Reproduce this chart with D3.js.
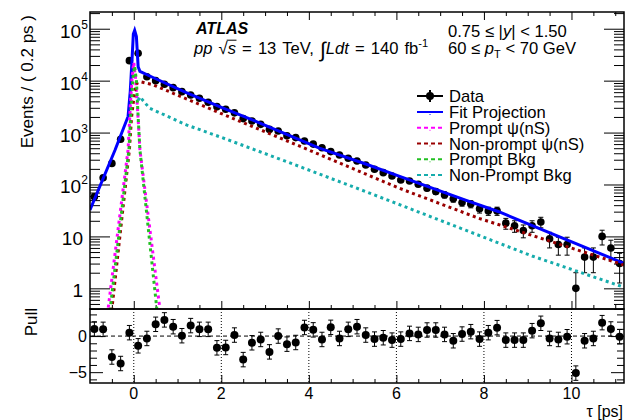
<!DOCTYPE html>
<html>
<head>
<meta charset="utf-8">
<script src="https://cdnjs.cloudflare.com/ajax/libs/d3/7.8.5/d3.min.js"></script>
<style>
    body { margin: 0; background: #fff; }
    svg { display: block; font-family: "Liberation Sans", Arial, Helvetica, sans-serif; }
</style>
</head>
<body>
<div id="container"></div>
<script>
// binned data (tau in ps, 0.2 ps bins)
var binCenters = [-0.9, -0.7, -0.5, -0.3, -0.1, 0.1, 0.3, 0.5, 0.7, 0.9, 1.1, 1.3, 1.5, 1.7, 1.9,
    2.1, 2.3, 2.5, 2.7, 2.9, 3.1, 3.3, 3.5, 3.7, 3.9, 4.1, 4.3, 4.5, 4.7, 4.9, 5.1, 5.3, 5.5, 5.7, 5.9,
    6.1, 6.3, 6.5, 6.7, 6.9, 7.1, 7.3, 7.5, 7.7, 7.9, 8.1, 8.3, 8.5, 8.7, 8.9, 9.1, 9.3, 9.5, 9.7, 9.9,
    10.1, 10.3, 10.5, 10.7, 10.9, 11.1];
var eventCounts = [58, 135, 255, 745, 24300, 33700, 11900, 10000, 8500, 7330, 6140, 5300, 4570, 3840, 3160,
    2820, 2400, 1860, 1670, 1440, 1150, 1070, 870, 800, 690, 600, 510, 430, 370, 320, 283, 237, 196, 169, 146,
    122, 117, 101, 85, 73, 63, 53, 45, 42, 34, 31, 31, 18, 16, 13, 16, 19, 9, 7, 7,
    1, 4, 4, 10, 6, 3];
var pullValues = [0.98, 0.93, -2.9, -3.8, 0.47, -1.35, -0.33, 1.63, 2.24, 1.3, 0.05, 1.45, 0.93, 0.93, -1.63,
    -1.58, 0.14, -3.26, -0.93, -0.47, -2.19, 0.0, -1.12, -0.89, 1.19, 0.86, -0.47, 1.21, -0.33, 0.93, 1.3, 0.14, -0.42, -0.23, -0.56,
    -0.42, 0.37, 0.23, 0.84, 0.84, 0.23, -0.65, 0.28, 0.61, -0.42, 0.47, 1.17, -0.56, -0.56, -0.56, 0.75, 1.77, -0.33, -0.47, -0.09,
    -5.13, -0.65, -0.33, 1.86, 0.98, -0.09];

// fit projection and components
var fitTau = [-1.0, -0.43, -0.13, -0.08, -0.04, -0.01, 0.02, 0.06, 0.1, 0.14, 0.44, 1.2, 1.96, 2.72, 3.48, 4.24, 5.3, 6.06, 6.82, 7.58, 8.34, 11.2];
var fitValues = [32.4, 457, 2042, 6310, 25100, 79400, 93300, 70800, 18600, 15100, 11500, 5890, 3160, 1740, 933, 501, 248, 145, 85.1, 50.1, 29.9, 3.02];

var promptTau = [-0.62, -0.13, -0.08, -0.04, 0.0, 0.04, 0.09, 0.14, 0.62];
var promptValues = [0.24, 468, 3160, 11200, 22400, 11200, 2510, 468, 0.28];

var nonPromptTau = [-0.52, -0.1, -0.05, 0.02, 0.08, 0.15, 0.44, 1.96, 3.9, 6.06, 7.88, 11.2];
var nonPromptValues = [0.28, 468, 2000, 6310, 9120, 9550, 8320, 2400, 501, 85.1, 22.4, 2.82];

var promptBkgTau = [-0.56, -0.11, -0.06, -0.02, 0.02, 0.06, 0.1, 0.14, 0.56];
var promptBkgValues = [0.28, 468, 3160, 11200, 19100, 10000, 2000, 468, 0.22];

var nonPromptBkgTau = [0.1, 0.14, 0.36, 1.2, 1.96, 3.4, 5.3, 7.58, 9.1, 11.2];
var nonPromptBkgValues = [4170, 4900, 2950, 1410, 832, 295, 73, 13.2, 4.2, 1.05];

// tick labels
var yTickValues = [1, 10, 100, 1000, 10000, 100000];
var yTickBases = ["1", "10", "10", "10", "10", "10"];
var yTickExponents = ["", "", "2", "3", "4", "5"];
var xTickValues = [0, 2, 4, 6, 8, 10];
var pullTickValues = [0, -5];
var pullTickLabels = ["0", "\u22125"];

var legendLabels = ["Data", "Fit Projection", "Prompt \u03c8(nS)", "Non-prompt \u03c8(nS)", "Prompt Bkg", "Non-Prompt Bkg"];
var legendColors = ["#000000", "#0000ff", "#ff00ff", "#990000", "#22c022", "#16acac"];

// layout
var plotLeft = 90, plotRight = 624;
var mainTop = 12, mainBottom = 309, pullBottom = 383;

var svg = d3.select("div#container")
    .append("svg")
    .attr("width", 625)
    .attr("height", 420);

var x = d3.scaleLinear().domain([-1, 11.2]).range([plotLeft, plotRight]);
var yMain = d3.scaleLog().domain([0.4, 2.1e5]).range([mainBottom, mainTop]);
var yPull = d3.scaleLinear().domain([-6.5, 3.75]).range([pullBottom, mainBottom]);

svg.append("clipPath").attr("id", "mainClip")
    .append("rect")
    .attr("x", plotLeft).attr("y", mainTop)
    .attr("width", plotRight - plotLeft).attr("height", mainBottom - mainTop);
svg.append("clipPath").attr("id", "pullClip")
    .append("rect")
    .attr("x", plotLeft).attr("y", mainBottom)
    .attr("width", plotRight - plotLeft).attr("height", pullBottom - mainBottom);

// inward ticks without the domain line
function drawTicks(axis, tx, ty) {
    svg.append("g")
        .attr("transform", "translate(" + tx + "," + ty + ")")
        .call(axis.tickFormat(""))
        .call(function (g) { g.select(".domain").remove(); })
        .selectAll("line")
        .attr("stroke", "#000")
        .attr("stroke-width", 1);
}

function isDecade(v) {
    var l = Math.log10(v);
    return Math.abs(l - Math.round(l)) < 1e-9;
}

var xMinor = d3.range(-0.5, 11.2, 0.5).filter(function (d) { return xTickValues.indexOf(d) < 0; });
var yMinor = yMain.ticks().filter(function (d) { return !isDecade(d); });
var pullMinor = d3.range(-6, 4, 1).filter(function (d) { return pullTickValues.indexOf(d) < 0; });

// ---------- main panel ----------
drawTicks(d3.axisLeft(yMain).tickValues(yTickValues).tickSize(-20), plotLeft, 0);
drawTicks(d3.axisLeft(yMain).tickValues(yMinor).tickSize(-10), plotLeft, 0);
drawTicks(d3.axisRight(yMain).tickValues(yTickValues).tickSize(-20), plotRight, 0);
drawTicks(d3.axisRight(yMain).tickValues(yMinor).tickSize(-10), plotRight, 0);
drawTicks(d3.axisBottom(x).tickValues(xTickValues).tickSize(-8), 0, mainBottom);
drawTicks(d3.axisBottom(x).tickValues(xMinor).tickSize(-4), 0, mainBottom);
drawTicks(d3.axisTop(x).tickValues(xTickValues).tickSize(-8), 0, mainTop);
drawTicks(d3.axisTop(x).tickValues(xMinor).tickSize(-4), 0, mainTop);

// y tick labels 10^n
var yLabels = svg.selectAll("yLabel")
    .data(yTickValues)
    .enter()
    .append("text")
    .attr("y", function (d) { return yMain(d) + 9; })
    .style("font-size", "19px")
    .attr("fill", "#000");
yLabels.each(function (d, i) {
    var t = d3.select(this);
    if (yTickExponents[i] === "") {
        t.attr("x", 83).attr("text-anchor", "end").text(yTickBases[i]);
    } else {
        t.attr("x", 60);
        t.append("tspan").text(yTickBases[i]);
        t.append("tspan").attr("dy", -9).style("font-size", "12px").text(yTickExponents[i]);
    }
});

svg.append("text")
    .attr("transform", "translate(33,15) rotate(-90)")
    .attr("text-anchor", "end")
    .style("font-size", "17px")
    .text("Events / ( 0.2 ps )");

// data points with Poisson error bars
var mainData = binCenters.map(function (t, i) { return { t: t, n: eventCounts[i] }; });
var mainG = svg.append("g").attr("clip-path", "url(#mainClip)");

mainData.forEach(function (d) {
    var err = Math.sqrt(d.n);
    var hi = yMain(d.n + err);
    var lo = d.n - err > 0.4 ? yMain(d.n - err) : mainBottom + 2;
    var cx = x(d.t);
    mainG.append("line").attr("x1", cx).attr("x2", cx).attr("y1", hi).attr("y2", lo)
        .attr("stroke", "#000").attr("stroke-width", 1);
    mainG.append("line").attr("x1", cx - 2.5).attr("x2", cx + 2.5).attr("y1", hi).attr("y2", hi)
        .attr("stroke", "#000").attr("stroke-width", 1);
    mainG.append("line").attr("x1", cx - 2.5).attr("x2", cx + 2.5).attr("y1", lo).attr("y2", lo)
        .attr("stroke", "#000").attr("stroke-width", 1);
});

mainG.selectAll("mainDot")
    .data(mainData)
    .enter()
    .append("circle")
    .attr("cx", function (d) { return x(d.t); })
    .attr("cy", function (d) { return yMain(d.n); })
    .attr("r", 3.8)
    .attr("fill", "#000");

// curves
var curveLine = d3.line()
    .x(function (d) { return x(d[0]); })
    .y(function (d) { return yMain(d[1]); });

function drawCurve(tau, vals, color, dashed) {
    mainG.append("path")
        .datum(d3.zip(tau, vals))
        .attr("d", curveLine)
        .attr("fill", "none")
        .attr("stroke", color)
        .attr("stroke-width", 3)
        .attr("stroke-dasharray", dashed ? "3,3.5" : null);
}

drawCurve(fitTau, fitValues, legendColors[1], false);
drawCurve(promptTau, promptValues, legendColors[2], true);
drawCurve(nonPromptTau, nonPromptValues, legendColors[3], true);
drawCurve(promptBkgTau, promptBkgValues, legendColors[4], true);
drawCurve(nonPromptBkgTau, nonPromptBkgValues, legendColors[5], true);

// frame
svg.append("rect")
    .attr("x", plotLeft).attr("y", mainTop)
    .attr("width", plotRight - plotLeft).attr("height", mainBottom - mainTop)
    .attr("fill", "none").attr("stroke", "#000").attr("stroke-width", 1.5);

// ---------- header text ----------
svg.append("text")
    .attr("x", 196).attr("y", 33.5)
    .style("font-size", "16px").style("font-weight", "bold").style("font-style", "italic")
    .text("ATLAS");

var lumi = svg.append("text").attr("x", 194).attr("y", 53.5)
    .style("font-size", "16.6px").style("word-spacing", "1.5px");
lumi.append("tspan").style("font-style", "italic").text("pp");
lumi.append("tspan").text(" \u221a");
lumi.append("tspan").style("font-style", "italic").text("s");
lumi.append("tspan").text(" = 13 TeV, ");
lumi.append("tspan").style("font-size", "21px").attr("dy", 3).text("\u222b");
lumi.append("tspan").style("font-style", "italic").attr("dy", -3).text("Ldt");
lumi.append("tspan").text(" = 140 fb");
lumi.append("tspan").style("font-size", "11px").attr("dy", -7).text("-1");

// overbar of the square root, over the "s" (character index 4)
var lumiNode = lumi.node();
var rootEnd = lumiNode.getEndPositionOfChar(3).x;
var sEnd = lumiNode.getEndPositionOfChar(4).x;
svg.append("line")
    .attr("x1", rootEnd - 1).attr("x2", sEnd + 0.5)
    .attr("y1", 40.2).attr("y2", 40.2)
    .attr("stroke", "#000").attr("stroke-width", 1);

var sel1 = svg.append("text").attr("x", 448).attr("y", 37).style("font-size", "16.6px");
sel1.append("tspan").text("0.75 \u2264 |");
sel1.append("tspan").style("font-style", "italic").text("y");
sel1.append("tspan").text("| < 1.50");

var sel2 = svg.append("text").attr("x", 448).attr("y", 53.5).style("font-size", "16.6px");
sel2.append("tspan").text("60 \u2264 ");
sel2.append("tspan").style("font-style", "italic").text("p");
sel2.append("tspan").style("font-size", "11px").attr("dy", 4).text("T");
sel2.append("tspan").attr("dy", -4).text(" < 70 GeV");

// ---------- legend ----------
var legendY = [96, 112, 127.8, 143.5, 159.3, 175];
legendLabels.forEach(function (label, i) {
    var ly = legendY[i];
    if (i === 0) {
        svg.append("line").attr("x1", 417).attr("x2", 443).attr("y1", ly).attr("y2", ly)
            .attr("stroke", "#000").attr("stroke-width", 2);
        svg.append("line").attr("x1", 430).attr("x2", 430).attr("y1", ly - 6).attr("y2", ly + 6)
            .attr("stroke", "#000").attr("stroke-width", 2);
        svg.append("circle").attr("cx", 430).attr("cy", ly).attr("r", 4).attr("fill", "#000");
    } else {
        svg.append("line").attr("x1", 417).attr("x2", 443).attr("y1", ly).attr("y2", ly)
            .attr("stroke", legendColors[i]).attr("stroke-width", 2)
            .attr("stroke-dasharray", i === 1 ? null : "4,3");
        svg.append("rect").attr("x", 429.5).attr("y", ly + 2).attr("width", 1).attr("height", 1)
            .attr("fill", legendColors[i]);
    }
    svg.append("text")
        .attr("x", 449).attr("y", ly + 6)
        .style("font-size", "16.6px")
        .text(label);
});

// ---------- pull panel ----------
var pullG = svg.append("g").attr("clip-path", "url(#pullClip)");

pullG.selectAll("pullGrid")
    .data(xTickValues)
    .enter()
    .append("line")
    .attr("x1", function (d) { return x(d); })
    .attr("x2", function (d) { return x(d); })
    .attr("y1", mainBottom).attr("y2", pullBottom)
    .attr("stroke", "#000").attr("stroke-width", 1)
    .attr("stroke-dasharray", "1,2");

pullG.append("line")
    .attr("x1", plotLeft).attr("x2", plotRight)
    .attr("y1", yPull(0)).attr("y2", yPull(0))
    .attr("stroke", "#000").attr("stroke-width", 1)
    .attr("stroke-dasharray", "4,3");

var pullData = binCenters.map(function (t, i) { return { t: t, p: pullValues[i] }; });
pullData.forEach(function (d) {
    var cx = x(d.t), hi = yPull(d.p + 1), lo = yPull(d.p - 1);
    pullG.append("line").attr("x1", cx).attr("x2", cx).attr("y1", hi).attr("y2", lo)
        .attr("stroke", "#000").attr("stroke-width", 1);
    pullG.append("line").attr("x1", cx - 2.5).attr("x2", cx + 2.5).attr("y1", hi).attr("y2", hi)
        .attr("stroke", "#000").attr("stroke-width", 1);
    pullG.append("line").attr("x1", cx - 2.5).attr("x2", cx + 2.5).attr("y1", lo).attr("y2", lo)
        .attr("stroke", "#000").attr("stroke-width", 1);
});
pullG.selectAll("pullDot")
    .data(pullData)
    .enter()
    .append("circle")
    .attr("cx", function (d) { return x(d.t); })
    .attr("cy", function (d) { return yPull(d.p); })
    .attr("r", 4)
    .attr("fill", "#000");

drawTicks(d3.axisLeft(yPull).tickValues(pullTickValues).tickSize(-13), plotLeft, 0);
drawTicks(d3.axisLeft(yPull).tickValues(pullMinor).tickSize(-7), plotLeft, 0);
drawTicks(d3.axisRight(yPull).tickValues(pullTickValues).tickSize(-13), plotRight, 0);
drawTicks(d3.axisRight(yPull).tickValues(pullMinor).tickSize(-7), plotRight, 0);
drawTicks(d3.axisBottom(x).tickValues(xTickValues).tickSize(-8), 0, pullBottom);
drawTicks(d3.axisBottom(x).tickValues(xMinor).tickSize(-4), 0, pullBottom);

svg.append("rect")
    .attr("x", plotLeft).attr("y", mainBottom)
    .attr("width", plotRight - plotLeft).attr("height", pullBottom - mainBottom)
    .attr("fill", "none").attr("stroke", "#000").attr("stroke-width", 1.5);

svg.selectAll("pullLabel")
    .data(pullTickValues)
    .enter()
    .append("text")
    .attr("x", 87)
    .attr("y", function (d) { return yPull(d) + 6; })
    .attr("text-anchor", "end")
    .style("font-size", "16px")
    .text(function (d, i) { return pullTickLabels[i]; });

svg.selectAll("xLabel")
    .data(xTickValues)
    .enter()
    .append("text")
    .attr("x", function (d) { return x(d); })
    .attr("y", 398.5)
    .attr("text-anchor", "middle")
    .style("font-size", "16px")
    .text(function (d) { return d; });

svg.append("text")
    .attr("transform", "translate(37,308) rotate(-90)")
    .attr("text-anchor", "end")
    .style("font-size", "17px")
    .text("Pull");

svg.append("text")
    .attr("x", 623).attr("y", 417)
    .attr("text-anchor", "end")
    .style("font-size", "16px")
    .text("\u03c4 [ps]");
</script>
</body>
</html>
